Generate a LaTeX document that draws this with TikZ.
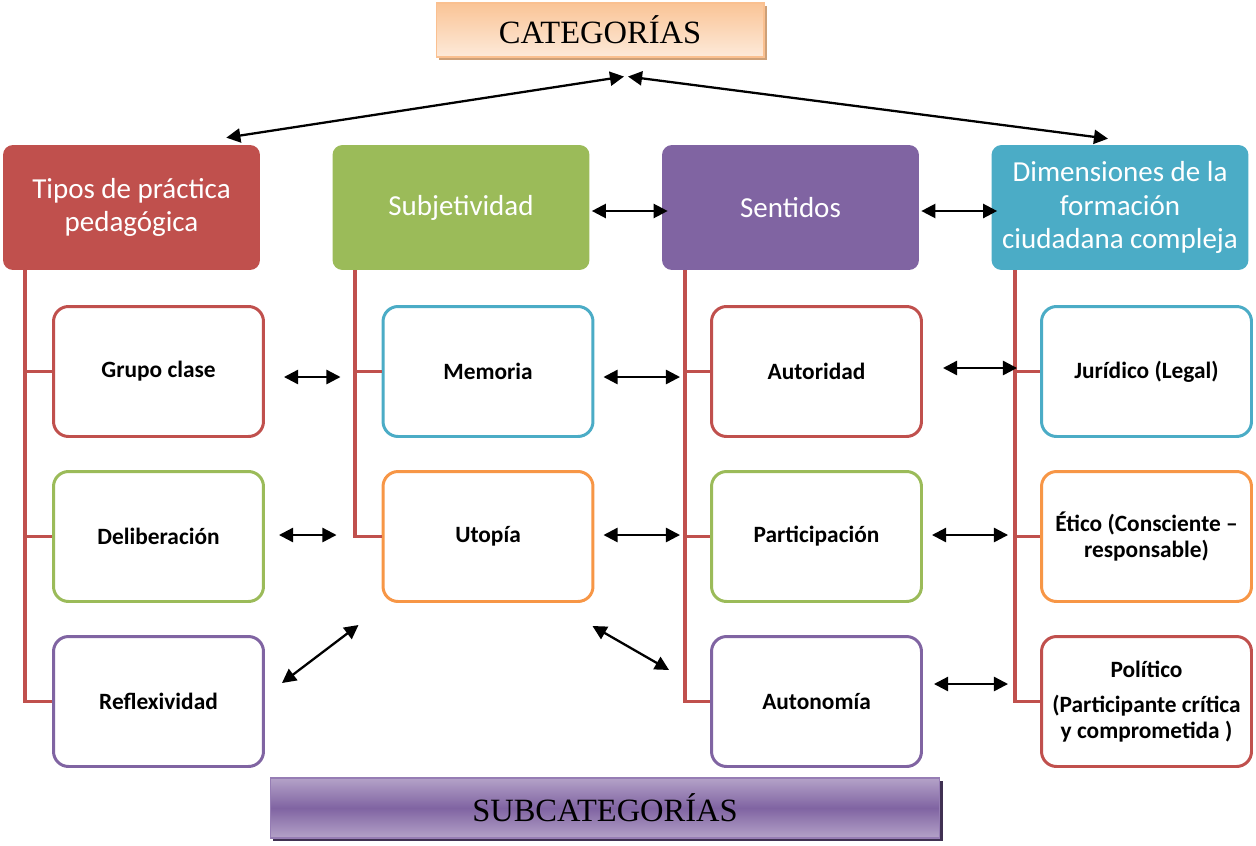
\documentclass[tikz,border=0pt]{standalone}
\usepackage{fontspec}
\setmainfont{Liberation Serif}
\newfontfamily\calibri{Carlito}
\usetikzlibrary{arrows.meta,shadows}

\definecolor{rojo}{HTML}{C0504D}
\definecolor{verde}{HTML}{9BBB59}
\definecolor{morado}{HTML}{8064A2}
\definecolor{turquesa}{HTML}{4BACC6}
\definecolor{naranja}{HTML}{F79646}

\begin{document}
\begin{tikzpicture}[x=0.02cm,y=-0.02cm,
		cabeza/.style={fill=#1, rounded corners=0.2cm, minimum width=5.14cm, minimum height=2.5cm, align=center, text=white, font=\calibri\fontsize{16.5}{19}\selectfont},
		sub/.style={draw=#1, fill=white, line width=1.7pt, rounded corners=0.3cm, minimum width=4.2cm, minimum height=2.6cm, align=center, font=\calibri\bfseries\fontsize{13.3}{15}\selectfont},
		rama/.style={draw=rojo, line width=2.2pt},
		flecha/.style={{Triangle[length=8pt,width=8pt]}-{Triangle[length=8pt,width=8pt]}, line width=1.3pt}]
		\useasboundingbox (0,0) rectangle (1256,845);

		% titulos
		\node[draw={rgb,255:red,250;green,192;blue,144}, line width=0.6pt, top color={rgb,255:red,250;green,196;blue,150}, bottom color={rgb,255:red,253;green,234;blue,218}, minimum width=6.56cm, minimum height=1.08cm, font=\fontsize{18.5}{21}\selectfont, drop shadow={shadow xshift=0.06cm, shadow yshift=-0.06cm, fill={rgb,255:red,205;green,160;blue,120}, opacity=1}] (cat) at (600,30) {CATEGORÍAS};
		\node[draw={rgb,255:red,150;green,125;blue,180}, line width=0.6pt, top color={rgb,255:red,180;green,162;blue,200}, bottom color={rgb,255:red,180;green,162;blue,200}, middle color=morado, minimum width=13.4cm, minimum height=1.2cm, font=\fontsize{18.5}{21}\selectfont, drop shadow={shadow xshift=0.06cm, shadow yshift=-0.06cm, fill={rgb,255:red,64;green,49;blue,82}, opacity=1}] (subcat) at (605,808) {SUBCATEGORÍAS};

		% categorias
		\node[cabeza=rojo] (tipos) at (131.5,207.5) {Tipos de práctica\\pedagógica};
		\node[cabeza=verde] (subj) at (461,207.5) {Subjetividad};
		\node[cabeza=morado] (sent) at (790.5,207.5) {Sentidos};
		\node[cabeza=turquesa] (dim) at (1120,207.5) {Dimensiones de la\\formación\\ciudadana compleja};

		% subcategorias
		\node[sub=rojo] (grupo) at (158.5,371.5) {Grupo clase};
		\node[sub=verde] (delib) at (158.5,536.5) {Deliberación};
		\node[sub=morado] (reflex) at (158.5,701.5) {Reflexividad};

		\node[sub=turquesa] (memoria) at (488,371.5) {Memoria};
		\node[sub=naranja] (utopia) at (488,536.5) {Utopía};

		\node[sub=rojo] (autoridad) at (816.5,371.5) {Autoridad};
		\node[sub=verde] (partic) at (816.5,536.5) {Participación};
		\node[sub=morado] (autonomia) at (816.5,701.5) {Autonomía};

		\node[sub=turquesa] (juridico) at (1146.5,371.5) {Jurídico (Legal)};
		\node[sub=naranja] (etico) at (1146.5,536.5) {Ético (Consciente –\\responsable)};
		\node[sub=rojo] (politico) at (1146.5,701.5) {Político\\[5pt](Participante crítica\\y comprometida )};

		% ramas
		\coordinate (t1) at ([shift={(22,0)}]tipos.south west);
		\coordinate (t2) at ([shift={(23,0)}]subj.south west);
		\coordinate (t3) at ([shift={(23,0)}]sent.south west);
		\coordinate (t4) at ([shift={(24,0)}]dim.south west);
		\draw[rama] (t1) |- (reflex.west);
		\draw[rama] (t1 |- grupo.west) -- (grupo.west);
		\draw[rama] (t1 |- delib.west) -- (delib.west);
		\draw[rama] (t2) |- (utopia.west);
		\draw[rama] (t2 |- memoria.west) -- (memoria.west);
		\draw[rama] (t3) |- (autonomia.west);
		\draw[rama] (t3 |- autoridad.west) -- (autoridad.west);
		\draw[rama] (t3 |- partic.west) -- (partic.west);
		\draw[rama] (t4) |- (politico.west);
		\draw[rama] (t4 |- juridico.west) -- (juridico.west);
		\draw[rama] (t4 |- etico.west) -- (etico.west);

		% flechas
		\draw[flecha] ([shift={(-34,-7)}]tipos.north east) -- ([shift={(24,19)}]cat.south);
		\draw[flecha] ([shift={(28,19)}]cat.south) -- ([shift={(-12,-6)}]dim.north);
		\draw[flecha] ([shift={(2,3.5)}]subj.east) -- ([shift={(6,3.5)}]sent.west);
		\draw[flecha] ([shift={(2,3.5)}]sent.east) -- ([shift={(6,3.5)}]dim.west);

		\draw[flecha] ([shift={(19,5.5)}]grupo.east) -- ([shift={(-41,5.5)}]memoria.west);
		\draw[flecha] ([shift={(9,5.5)}]memoria.east) -- ([shift={(-30,5.5)}]autoridad.west);
		\draw[flecha] ([shift={(20,-3.5)}]autoridad.east) -- ([shift={(-23,-3.5)}]juridico.west);

		\draw[flecha] ([shift={(14,-1.5)}]delib.east) -- ([shift={(-45,-1.5)}]utopia.west);
		\draw[flecha] ([shift={(9,-1.5)}]utopia.east) -- ([shift={(-30,-1.5)}]partic.west);
		\draw[flecha] ([shift={(9,-1.5)}]partic.east) -- ([shift={(-32,-1.5)}]etico.west);

		\draw[flecha] ([shift={(17,-18.5)}]reflex.east) -- ([shift={(-23,22)}]utopia.south west);
		\draw[flecha] ([shift={(-2,23)}]utopia.south east) -- ([shift={(-41,-31.5)}]autonomia.west);
		\draw[flecha] ([shift={(11,-17.5)}]autonomia.east) -- ([shift={(-32,-17.5)}]politico.west);
	\end{tikzpicture}
\end{document}
